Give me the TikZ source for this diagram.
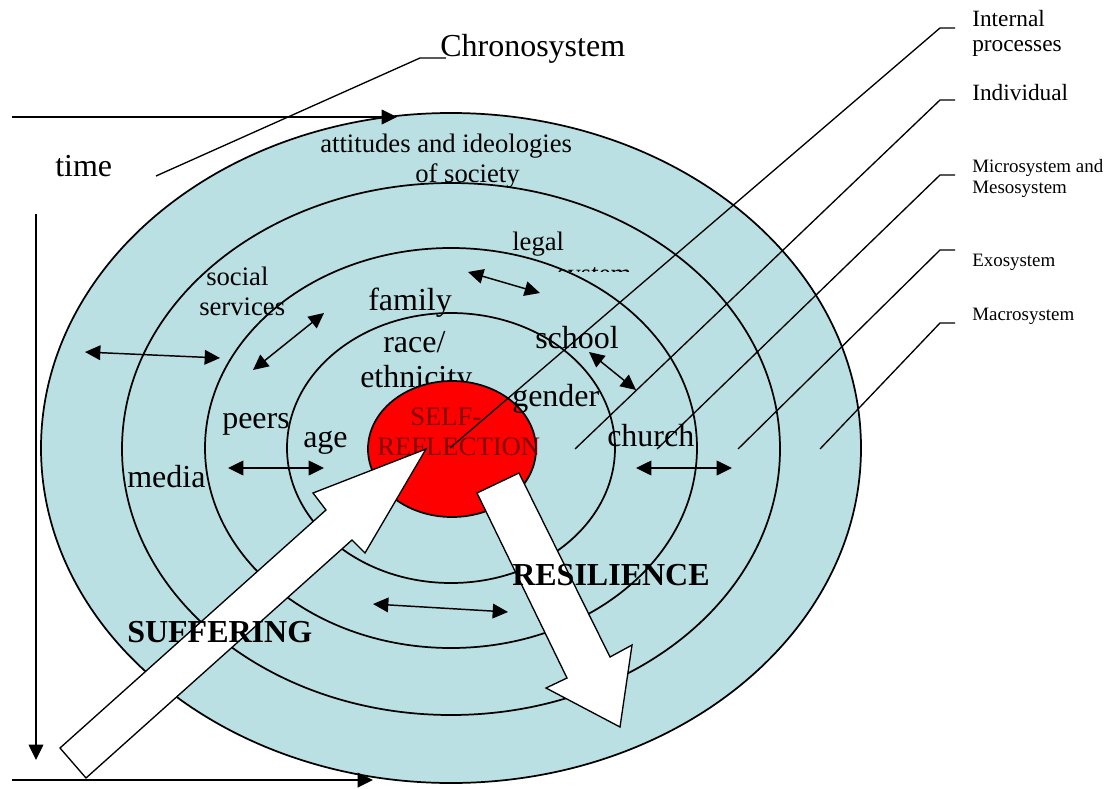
\documentclass[tikz,border=0pt]{standalone}
\usepackage{fontspec}
\setmainfont{Liberation Serif}
\usetikzlibrary{arrows.meta,shapes.geometric}
\definecolor{ringblue}{RGB}{186,224,227}
\definecolor{selfred}{RGB}{255,0,0}
\definecolor{selftext}{RGB}{128,0,0}
\newcommand{\fs}[1]{\fontsize{#1}{#1}\selectfont}
\tikzset{
  ring/.style={ellipse, draw=black, line width=1.3pt, fill=ringblue, inner sep=0pt},
  lbl/.style={anchor=base west, inner sep=0pt, font=\fs{24}},
  lblmid/.style={anchor=base west, inner sep=0pt, font=\fs{20}},
  lblside/.style={anchor=base west, inner sep=0pt, font=\fs{17.5}},
  lblsmall/.style={anchor=base west, inner sep=0pt, font=\fs{14.2}},
  lblbold/.style={anchor=base west, inner sep=0pt, font=\fs{24}\bfseries},
  twoway/.style={line width=1.1pt, {Triangle[length=11.5pt,width=11pt]}-{Triangle[length=11.5pt,width=11pt]}},
  oneway/.style={line width=1.1pt, -{Triangle[length=11.5pt,width=11pt]}},
  leader/.style={line width=1pt},
  bigarrow/.style={draw=black, fill=white, line width=1pt, line join=miter}
}
\begin{document}
\begin{tikzpicture}[x=0.75pt, y=-0.75pt]
\useasboundingbox (0,0) rectangle (1105,788);

% concentric system rings
\node[ring, minimum width=615pt, minimum height=502.5pt] (macro) at (451,448) {};
\node[ring, minimum width=493.5pt, minimum height=399pt] (exo) at (451,449) {};
\node[ring, minimum width=369pt, minimum height=300pt] (micro) at (451,448) {};

\node[lblmid] (legal) at (512,250) {legal};
\begin{scope}
  \clip (540,250) rectangle (650,271.5);
  \node[lblmid] (system) at (557,282) {system};
\end{scope}

\node[ring, minimum width=246pt, minimum height=202.5pt] (indiv) at (451,448) {};

% labels inside the rings
\node[lblmid] (attitudes) at (320,152) {attitudes and ideologies};
\node[lblmid] (society) at (415,182) {of society};
\node[lblmid] (social) at (206,285) {social};
\node[lblmid] (services) at (199,315) {services};
\node[lbl] (family) at (368,310) {family};
\node[lbl] (race) at (383,352) {race/};
\node[lbl] (ethnicity) at (360,387) {ethnicity};
\node[lbl] (school) at (535,348) {school};
\node[lbl] (peers) at (222,428) {peers};
\node[lbl] (age) at (303,447) {age};
\node[lbl] (media) at (127,487) {media};
\node[lbl] (church) at (607,446) {church};

% the self at the centre
\node[ellipse, draw=black, line width=1.3pt, fill=selfred, inner sep=0pt,
      minimum width=126pt, minimum height=102pt] (self) at (452,449) {};
\node[lbl] (gender) at (512,406) {gender};
\node[lblmid, text=selftext] (selfa) at (410,425) {SELF-};
\node[lblmid, text=selftext] (selfb) at (377,455) {REFLECTION};

% suffering and resilience block arrows
\draw[bigarrow] (60,748) -- (326,510) -- (313,493) -- (426,449) -- (365,553)
  -- (352,540) -- (86,778) -- cycle;
\draw[bigarrow] (477,493) -- (519,473) -- (610,657) -- (632,645) -- (620,727)
  -- (546,688) -- (567,678) -- cycle;
\node[lblbold] (suffering) at (127,642) {SUFFERING};
\node[lblbold] (resilience) at (512,585) {RESILIENCE};

% two-way interaction arrows
\coordinate (t1a) at (85,352);  \coordinate (t1b) at (220,358);
\coordinate (t2a) at (253,370); \coordinate (t2b) at (324,313);
\coordinate (t3a) at (468,272); \coordinate (t3b) at (540,293);
\coordinate (t4a) at (589,352); \coordinate (t4b) at (636,390);
\coordinate (t5a) at (228,468); \coordinate (t5b) at (324,468);
\coordinate (t6a) at (636,468); \coordinate (t6b) at (732,468);
\coordinate (t7a) at (373,604); \coordinate (t7b) at (508,612);
\foreach \k in {1,...,7} \draw[twoway] (t\k a) -- (t\k b);

% time axes
\node[lbl] (time) at (55,176) {time};
\coordinate (h1a) at (12,117);  \coordinate (h1b) at (397,117);
\coordinate (vta) at (36,214);  \coordinate (vtb) at (36,760);
\coordinate (h2a) at (12,780);  \coordinate (h2b) at (373,780);
\draw[oneway] (h1a) -- (h1b);
\draw[oneway] (vta) -- (vtb);
\draw[oneway] (h2a) -- (h2b);

% chronosystem label and leader
\node[lbl] (chrono) at (440,57) {Chronosystem};
\coordinate (chA) at (446,58); \coordinate (chB) at (420,58); \coordinate (chC) at (156,176);
\draw[leader] (chA) -- (chB) -- (chC);

% system labels on the right with leaders
\node[lblside] (internal) at (972,27) {Internal};
\node[lblside] (processes) at (972,52) {processes};
\node[lblside] (individual) at (972,101) {Individual};
\node[lblsmall] (microlbl) at (972,172) {Microsystem and};
\node[lblsmall] (mesolbl) at (972,193) {Mesosystem};
\node[lblsmall] (exolbl) at (972,266) {Exosystem};
\node[lblsmall] (macrolbl) at (972,320) {Macrosystem};

\coordinate (l1a) at (955,28);  \coordinate (l1b) at (940,28);  \coordinate (l1c) at (450,448);
\coordinate (l2a) at (955,100); \coordinate (l2b) at (940,100); \coordinate (l2c) at (575,449);
\coordinate (l3a) at (955,175); \coordinate (l3b) at (940,175); \coordinate (l3c) at (657,449);
\coordinate (l4a) at (955,250); \coordinate (l4b) at (940,250); \coordinate (l4c) at (738,449);
\coordinate (l5a) at (955,323); \coordinate (l5b) at (940,323); \coordinate (l5c) at (820,449);
\foreach \k in {1,...,5} \draw[leader] (l\k a) -- (l\k b) -- (l\k c);
\end{tikzpicture}
\end{document}
